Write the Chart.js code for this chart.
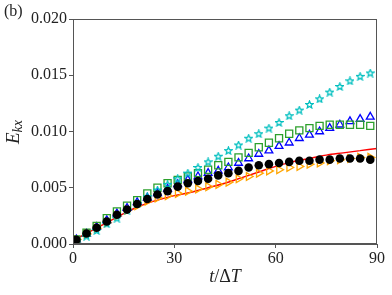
<!DOCTYPE html>
<html>
<head>
<meta charset="utf-8">
<script src="https://cdn.jsdelivr.net/npm/chart.js@4.4.0/dist/chart.umd.min.js"></script>
<style>
  html, body { margin: 0; padding: 0; background: #fff; }
  #wrap { width: 392px; height: 295px; }
</style>
</head>
<body>
<div id="wrap"><canvas id="chart" width="392" height="295"></canvas></div>
<script>
// sample times of the markers
const times = [1, 4, 7, 10, 13, 16, 19, 22, 25, 28, 31, 34, 37, 40, 43, 46, 49, 52, 55, 58, 61, 64, 67, 70, 73, 76, 79, 82, 85, 88];

const blackDots = [0.00038, 0.00094, 0.00145, 0.0020, 0.0026, 0.00306, 0.00356, 0.0040, 0.0044, 0.0047, 0.0051, 0.0054, 0.0056, 0.0058, 0.0061, 0.0063, 0.0065, 0.0068, 0.0070, 0.0071, 0.0072, 0.0073, 0.0074, 0.0074, 0.0075, 0.0075, 0.0076, 0.0076, 0.0076, 0.0075];
const greenSquares = [0.0004, 0.0010, 0.0016, 0.0023, 0.0029, 0.0034, 0.0039, 0.0045, 0.0050, 0.0054, 0.0057, 0.0060, 0.0063, 0.0066, 0.0070, 0.0073, 0.0077, 0.0081, 0.0086, 0.0090, 0.0094, 0.0098, 0.0101, 0.0103, 0.0105, 0.0106, 0.0106, 0.0106, 0.0106, 0.0105];
const cyanStars = [0.0003, 0.0007, 0.0012, 0.0018, 0.0023, 0.0030, 0.0036, 0.0042, 0.0048, 0.0053, 0.0058, 0.0063, 0.0068, 0.0073, 0.0078, 0.0083, 0.0088, 0.0094, 0.0098, 0.0103, 0.0108, 0.0114, 0.0119, 0.0124, 0.0129, 0.0135, 0.0140, 0.0145, 0.0149, 0.0152];
const blueTriangles = [0.0004, 0.0009, 0.0015, 0.0021, 0.0027, 0.0032, 0.0037, 0.0041, 0.0045, 0.0049, 0.0053, 0.0057, 0.0060, 0.0063, 0.0065, 0.0068, 0.0072, 0.0076, 0.0080, 0.0083, 0.0087, 0.0090, 0.0094, 0.0097, 0.0100, 0.0103, 0.0106, 0.0109, 0.0111, 0.0113];
const orangeTriangles = [0.0004, 0.0009, 0.0014, 0.0019, 0.0025, 0.0030, 0.0034, 0.0038, 0.0041, 0.0043, 0.0045, 0.0047, 0.0049, 0.0051, 0.0053, 0.0055, 0.0058, 0.0060, 0.0063, 0.0065, 0.0066, 0.0068, 0.0069, 0.0071, 0.0072, 0.0074, 0.0075, 0.0076, 0.0077, 0.0077];

// red reference curve
const lineTimes = [0, 5, 10, 15, 20, 25, 30, 35, 40, 45, 50, 55, 60, 65, 70, 75, 80, 85, 90];
const redLine = [0.0003, 0.0011, 0.0019, 0.0027, 0.0034, 0.0039, 0.0043, 0.0046, 0.0050, 0.0054, 0.0059, 0.0064, 0.0069, 0.0073, 0.0076, 0.0079, 0.0081, 0.0083, 0.0085];

const xTicks = [0, 30, 60, 90];
const yTicks = [0, 0.005, 0.010, 0.015, 0.020];

const serif = "'Liberation Serif', 'DejaVu Serif', serif";

function pts(xs, ys) {
  return xs.map((x, i) => ({ x: x, y: ys[i] }));
}

// small hollow five-pointed star used as a marker
function makeStar(color) {
  const c = document.createElement("canvas");
  c.width = 9;
  c.height = 9;
  const g = c.getContext("2d");
  g.strokeStyle = color;
  g.lineWidth = 1.3;
  g.beginPath();
  for (let i = 0; i < 10; i++) {
    const r = i % 2 === 0 ? 3.8 : 1.7;
    const a = -Math.PI / 2 + i * Math.PI / 5;
    const px = 4.5 + r * Math.cos(a);
    const py = 4.8 + r * Math.sin(a);
    if (i === 0) g.moveTo(px, py);
    else g.lineTo(px, py);
  }
  g.closePath();
  g.stroke();
  return c;
}

const framePlugin = {
  id: "frame",
  afterDraw(chart) {
    const { ctx, chartArea } = chart;
    ctx.save();
    ctx.strokeStyle = "#555";
    ctx.lineWidth = 1;
    ctx.strokeRect(chartArea.left + 0.5, chartArea.top + 0.5,
      chartArea.right - chartArea.left - 1, chartArea.bottom - chartArea.top - 1);

    ctx.fillStyle = "#222";
    ctx.textBaseline = "middle";
    // panel label
    ctx.font = "16px " + serif;
    ctx.textAlign = "left";
    ctx.fillText("(b)", 4, 12);

    // x title: t/ΔT
    const xc = (chartArea.left + chartArea.right) / 2;
    const parts = [["italic 18px ", "t"], ["18px ", "/Δ"], ["italic 18px ", "T"]];
    let w = 0;
    parts.forEach(p => { ctx.font = p[0] + serif; w += ctx.measureText(p[1]).width; });
    let x = xc - w / 2;
    parts.forEach(p => {
      ctx.font = p[0] + serif;
      ctx.fillText(p[1], x, 277);
      x += ctx.measureText(p[1]).width;
    });

    // y title: E_kx
    ctx.translate(14, 132);
    ctx.rotate(-Math.PI / 2);
    ctx.font = "italic 19px " + serif;
    const wE = ctx.measureText("E").width;
    ctx.font = "italic 14px " + serif;
    const wS = ctx.measureText("kx").width;
    const start = -(wE + wS) / 2;
    ctx.font = "italic 19px " + serif;
    ctx.fillText("E", start, 0);
    ctx.font = "italic 14px " + serif;
    ctx.fillText("kx", start + wE, 4);
    ctx.restore();
  }
};

new Chart(document.getElementById("chart"), {
  type: "scatter",
  data: {
    datasets: [
      {
        data: pts(times, blackDots),
        pointStyle: "circle",
        pointRadius: 4.3,
        backgroundColor: "#000",
        borderColor: "#000",
        borderWidth: 0
      },
      {
        data: pts(times, cyanStars),
        pointStyle: makeStar("#00bfbf"),
        pointRadius: 4
      },
      {
        data: pts(times, greenSquares),
        pointStyle: "rect",
        pointRadius: 5,
        backgroundColor: "rgba(0,0,0,0)",
        borderColor: "#2ca02c",
        borderWidth: 1.3
      },
      {
        data: pts(times, blueTriangles),
        pointStyle: "triangle",
        pointRadius: 4.5,
        backgroundColor: "rgba(0,0,0,0)",
        borderColor: "#0000ff",
        borderWidth: 1.3
      },
      {
        data: pts(times, orangeTriangles),
        pointStyle: "triangle",
        rotation: 90,
        pointRadius: 4.5,
        backgroundColor: "rgba(0,0,0,0)",
        borderColor: "#ffa500",
        borderWidth: 1.3
      },
      {
        type: "line",
        data: pts(lineTimes, redLine),
        borderColor: "#ff0000",
        borderWidth: 1.5,
        pointRadius: 0,
        cubicInterpolationMode: "monotone",
        fill: false
      }
    ]
  },
  options: {
    responsive: false,
    animation: false,
    layout: { padding: { left: 0, right: 15, top: 19, bottom: 0 } },
    plugins: {
      legend: { display: false },
      tooltip: { enabled: false }
    },
    scales: {
      x: {
        type: "linear",
        min: 0,
        max: 90,
        afterFit(scale) { scale.height = 51; },
        afterBuildTicks(scale) { scale.ticks = xTicks.map(v => ({ value: v })); },
        grid: { drawOnChartArea: false, drawTicks: true, tickLength: 4, color: "#555" },
        border: { color: "#555" },
        ticks: {
          color: "#222",
          padding: 1,
          font: { family: serif, size: 16 },
          callback: v => String(v)
        }
      },
      y: {
        min: 0,
        max: 0.02,
        afterFit(scale) { scale.width = 73; },
        afterBuildTicks(scale) { scale.ticks = yTicks.map(v => ({ value: v })); },
        grid: { drawOnChartArea: false, drawTicks: true, tickLength: 4, color: "#555" },
        border: { color: "#555" },
        ticks: {
          color: "#222",
          padding: 2,
          font: { family: serif, size: 16 },
          callback: v => v.toFixed(3)
        }
      }
    }
  },
  plugins: [framePlugin]
});
</script>
</body>
</html>
